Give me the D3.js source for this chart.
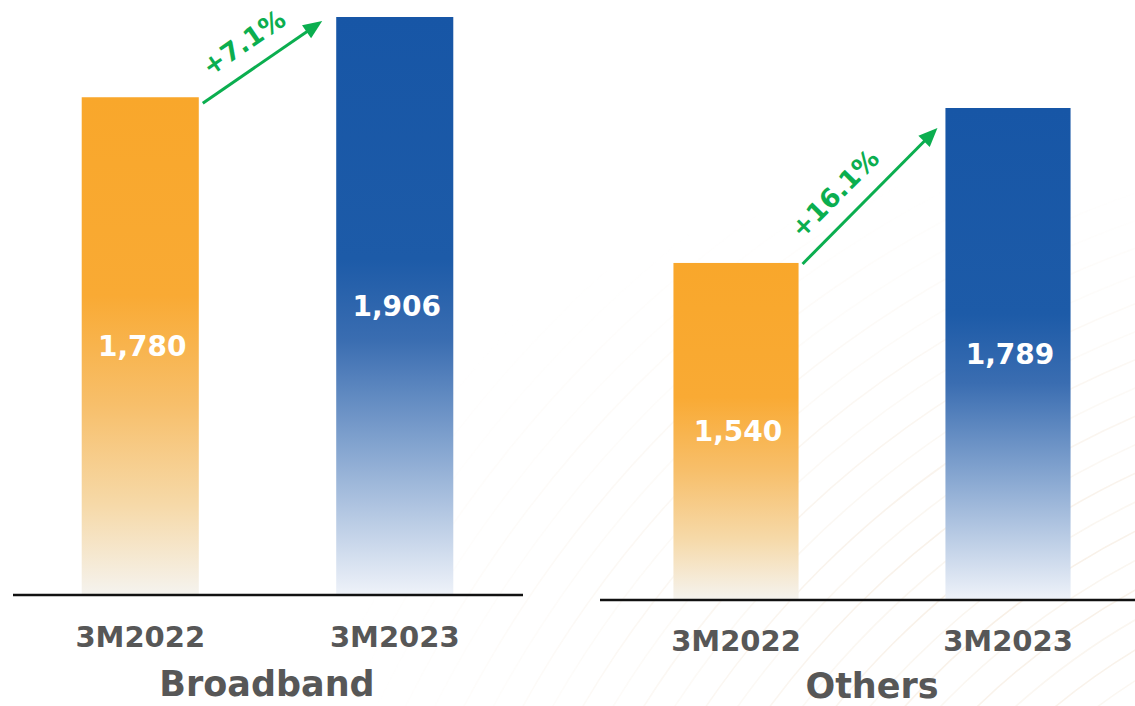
<!DOCTYPE html>
<html>
<head>
<meta charset="utf-8">
<script src="https://cdn.jsdelivr.net/npm/d3@7/dist/d3.min.js"></script>
<style>
  html, body { margin: 0; padding: 0; background: #ffffff; }
  svg { display: block; }
</style>
</head>
<body>
<svg id="chart" width="1135" height="706"></svg>
<script>
// ---- Data ----
const panelTitles = ["Broadband", "Others"];
const periods = ["3M2022", "3M2023"];
const broadbandValues = [1780, 1906];
const othersValues = [1540, 1789];
const growthLabels = ["+7.1%", "+16.1%"];

// ---- Layout ----
const W = 1135, H = 706;
const svg = d3.select("#chart");
const FONT = "'DejaVu Sans', sans-serif";
const GREEN = "#0BAE4F";
const GREY = "#575757";

const panels = [
  { title: panelTitles[0], values: broadbandValues, growth: growthLabels[0],
    x0: 13, x1: 522, base: 594, top: 17, lineX0: 13, lineX1: 523,
    catY: 647, titleX: 267, titleY: 696,
    arrowStartDy: 6, arrowEndDy: 4, arrowEndDx: -14, labelT: 0.47 },
  { title: panelTitles[1], values: othersValues, growth: growthLabels[1],
    x0: 600, x1: 1144, base: 599, top: 108, lineX0: 600, lineX1: 1135,
    catY: 651, titleX: 872, titleY: 698,
    arrowStartDy: 1, arrowEndDy: 20, arrowEndDx: -8, labelT: 0.38 }
];

const defs = svg.append("defs");
function grad(id, stops) {
  const g = defs.append("linearGradient").attr("id", id)
    .attr("x1", 0).attr("y1", 0).attr("x2", 0).attr("y2", 1);
  stops.forEach(s => g.append("stop").attr("offset", s[0]).attr("stop-color", s[1]));
}
grad("gOrange", [[0, "#F9A72B"], [0.4, "#F9AA34"], [0.62, "#F7BF6B"], [0.82, "#F6D9A8"], [1, "#F5F3EE"]]);
grad("gBlue", [[0, "#1756A6"], [0.42, "#1D5BA8"], [0.56, "#3A6DB1"], [0.76, "#8AA9D2"], [1, "#EEF2F9"]]);
const fills = ["url(#gOrange)", "url(#gBlue)"];

// ---- faint background texture (lower right) ----
const bg = svg.append("g").attr("opacity", 0.5);
const mask = defs.append("radialGradient").attr("id", "bgFade")
  .attr("cx", 0.9).attr("cy", 0.85).attr("r", 0.6);
mask.append("stop").attr("offset", 0).attr("stop-color", "#fff").attr("stop-opacity", 1);
mask.append("stop").attr("offset", 1).attr("stop-color", "#fff").attr("stop-opacity", 0);
defs.append("mask").attr("id", "bgMask")
  .append("rect").attr("x", 0).attr("y", 0).attr("width", W).attr("height", H).attr("fill", "url(#bgFade)");
const texture = bg.append("g").attr("mask", "url(#bgMask)");
d3.range(0, 34).forEach(i => {
  texture.append("circle")
    .attr("cx", 1500).attr("cy", 1250)
    .attr("r", 520 + i * 26)
    .attr("fill", "none")
    .attr("stroke", i % 2 ? "#F0DFCB" : "#F4EADC")
    .attr("stroke-width", 1.6);
});

// ---- Panels ----
panels.forEach(p => {
  const g = svg.append("g");
  const x = d3.scaleBand().domain(periods).range([p.x0, p.x1])
    .paddingInner(0.54).paddingOuter(0.27);
  const y = d3.scaleLinear().domain([1000, d3.max(p.values)]).range([p.base, p.top]);

  const data = periods.map((k, i) => ({ k, v: p.values[i], i }));

  g.selectAll("rect.bar").data(data).enter().append("rect")
    .attr("class", "bar")
    .attr("x", d => x(d.k))
    .attr("y", d => y(d.v))
    .attr("width", x.bandwidth())
    .attr("height", d => p.base - y(d.v))
    .attr("fill", d => fills[d.i]);

  g.selectAll("text.val").data(data).enter().append("text")
    .attr("class", "val")
    .attr("x", d => x(d.k) + x.bandwidth() / 2 + 2)
    .attr("y", d => (y(d.v) + p.base) / 2)
    .attr("dy", "0.36em")
    .attr("text-anchor", "middle")
    .attr("font-family", FONT).attr("font-weight", "bold")
    .attr("font-size", 28).attr("fill", "#ffffff")
    .text(d => d3.format(",")(d.v));

  // baseline
  g.append("line")
    .attr("x1", p.lineX0).attr("x2", p.lineX1)
    .attr("y1", p.base + 1).attr("y2", p.base + 1)
    .attr("stroke", "#111").attr("stroke-width", 2.6);

  // category labels
  g.selectAll("text.cat").data(data).enter().append("text")
    .attr("class", "cat")
    .attr("x", d => x(d.k) + x.bandwidth() / 2)
    .attr("y", p.catY)
    .attr("text-anchor", "middle")
    .attr("font-family", FONT).attr("font-weight", "bold")
    .attr("font-size", 29).attr("fill", GREY)
    .text(d => d.k);

  // panel title
  g.append("text")
    .attr("x", p.titleX).attr("y", p.titleY)
    .attr("text-anchor", "middle")
    .attr("font-family", FONT).attr("font-weight", "bold")
    .attr("font-size", 35).attr("fill", GREY)
    .text(p.title);

  // growth arrow
  const sx = x(periods[0]) + x.bandwidth() + 4;
  const sy = y(p.values[0]) + p.arrowStartDy;
  const ex = x(periods[1]) + p.arrowEndDx;
  const ey = y(p.values[1]) + p.arrowEndDy;
  const ang = Math.atan2(ey - sy, ex - sx);
  const ux = Math.cos(ang), uy = Math.sin(ang);
  const headL = 19, headW = 8;
  const bx = ex - ux * headL, by = ey - uy * headL;
  g.append("line")
    .attr("x1", sx).attr("y1", sy).attr("x2", bx + ux * 2).attr("y2", by + uy * 2)
    .attr("stroke", GREEN).attr("stroke-width", 3);
  g.append("path")
    .attr("d", `M${ex},${ey}L${bx - uy * headW},${by + ux * headW}L${bx + uy * headW},${by - ux * headW}Z`)
    .attr("fill", GREEN);

  const t = p.labelT;
  const lx = sx + (ex - sx) * t + uy * 27;
  const ly = sy + (ey - sy) * t - ux * 27;
  g.append("text")
    .attr("transform", `translate(${lx},${ly}) rotate(${ang * 180 / Math.PI})`)
    .attr("dy", "0.36em")
    .attr("text-anchor", "middle")
    .attr("font-family", FONT).attr("font-weight", "bold")
    .attr("font-size", 26).attr("fill", GREEN)
    .text(p.growth);
});
</script>
</body>
</html>
